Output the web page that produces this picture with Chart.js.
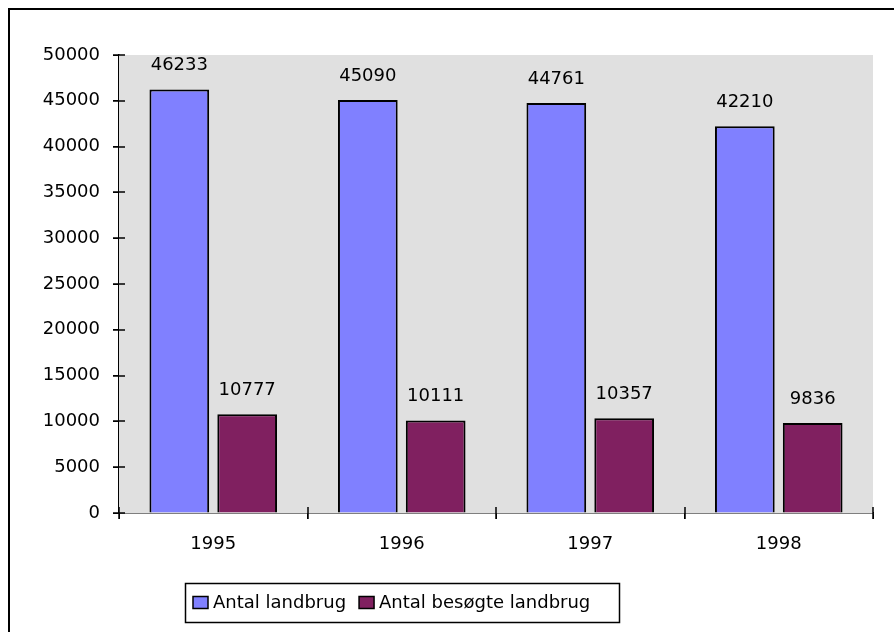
<!DOCTYPE html>
<html>
<head>
<meta charset="utf-8">
<script src="https://cdn.jsdelivr.net/npm/chart.js@4"></script>
<style>
    html, body { margin: 0; padding: 0; background: #fff; }
    #wrap { position: relative; width: 894px; height: 632px; overflow: hidden; }
    #frame { position: absolute; left: 8px; top: 8px; width: 1000px; height: 1000px;
             border-left: 2px solid #000; border-top: 2px solid #000; }
    canvas { position: absolute; left: 0; top: 0; }
</style>
</head>
<body>
<div id="wrap">
    <div id="frame"></div>
    <canvas id="chart" width="894" height="632"></canvas>
</div>
<script>
// Données
const years = ['1995', '1996', '1997', '1998'];
const antalLandbrug = [46233, 45090, 44761, 42210];
const antalBesogte = [10777, 10111, 10357, 9836];
const seriesNames = ['Antal landbrug', 'Antal besøgte landbrug'];
const seriesColors = ['#8080FF', '#802060'];
const yTicks = [0, 5000, 10000, 15000, 20000, 25000, 30000, 35000, 40000, 45000, 50000];

const FONT = { family: '"DejaVu Sans", sans-serif', size: 18 };
const fontStr = `${FONT.size}px ${FONT.family}`;

// Fond gris de la zone de tracé
const plotBackground = {
    id: 'plotBackground',
    beforeDatasetsDraw(chart) {
        const { ctx, chartArea: a } = chart;
        ctx.save();
        ctx.fillStyle = '#E0E0E0';
        ctx.fillRect(a.left, a.top, a.right - a.left, a.bottom - a.top);
        ctx.restore();
    }
};

// Petites graduations qui traversent les axes
const crossTicks = {
    id: 'crossTicks',
    afterDraw(chart) {
        const { ctx, chartArea: a } = chart;
        const y = chart.scales.y;
        ctx.save();
        ctx.strokeStyle = '#000';
        ctx.lineWidth = 1.5;
        ctx.beginPath();
        y.ticks.forEach((t, i) => {
            const py = Math.round(y.getPixelForTick(i));
            ctx.moveTo(a.left - 6, py);
            ctx.lineTo(a.left + 6, py);
        });
        const n = years.length;
        for (let i = 0; i <= n; i++) {
            const px = Math.round(a.left + i * (a.right - a.left) / n);
            ctx.moveTo(px, a.bottom + 6);
            ctx.lineTo(px, a.bottom - 6);
        }
        ctx.stroke();
        ctx.restore();
    }
};

// Étiquettes de valeurs au-dessus des barres
const valueLabels = {
    id: 'valueLabels',
    afterDatasetsDraw(chart) {
        const { ctx } = chart;
        ctx.save();
        ctx.font = fontStr;
        ctx.fillStyle = '#000';
        ctx.textAlign = 'center';
        ctx.textBaseline = 'middle';
        chart.data.datasets.forEach((ds, di) => {
            chart.getDatasetMeta(di).data.forEach((bar, i) => {
                ctx.fillText(String(ds.data[i]), bar.x, bar.y - 24);
            });
        });
        ctx.restore();
    }
};

// Légende encadrée en bas
const boxLegend = {
    id: 'boxLegend',
    afterDraw(chart) {
        const { ctx } = chart;
        const left = 185, top = 583, bottom = 622;
        const midY = (top + bottom) / 2;
        const mW = 15, mH = 12, gap = 5, itemGap = 13, padL = 8, padR = 29;
        ctx.save();
        ctx.font = fontStr;
        const items = chart.data.datasets.map(ds => ({
            text: ds.label, color: ds.backgroundColor, w: ctx.measureText(ds.label).width
        }));
        let total = padL + padR;
        items.forEach((it, i) => { total += mW + gap + it.w + (i < items.length - 1 ? itemGap : 0); });
        ctx.strokeStyle = '#000';
        ctx.lineWidth = 1.5;
        ctx.strokeRect(left + 0.5, top + 0.5, Math.round(total), bottom - top);
        let x = left + padL;
        ctx.textBaseline = 'middle';
        ctx.textAlign = 'left';
        items.forEach(it => {
            ctx.fillStyle = it.color;
            ctx.fillRect(x, midY - mH / 2, mW, mH);
            ctx.strokeRect(x, midY - mH / 2, mW, mH);
            x += mW + gap;
            ctx.fillStyle = '#000';
            ctx.fillText(it.text, x, midY + 1);
            x += it.w + itemGap;
        });
        ctx.restore();
    }
};

new Chart(document.getElementById('chart'), {
    type: 'bar',
    data: {
        labels: years,
        datasets: [
            {
                label: seriesNames[0],
                data: antalLandbrug,
                backgroundColor: seriesColors[0],
                borderColor: '#000',
                borderWidth: 2,
                categoryPercentage: 0.72,
                barPercentage: 0.88
            },
            {
                label: seriesNames[1],
                data: antalBesogte,
                backgroundColor: seriesColors[1],
                borderColor: '#000',
                borderWidth: 2,
                categoryPercentage: 0.72,
                barPercentage: 0.88
            }
        ]
    },
    options: {
        responsive: false,
        animation: false,
        layout: { padding: { top: 55, right: 21, left: 0, bottom: 0 } },
        plugins: {
            legend: { display: false },
            tooltip: { enabled: false }
        },
        scales: {
            x: {
                grid: { offset: true, drawOnChartArea: false, drawTicks: true, tickLength: 6, color: '#000' },
                border: { color: '#000', width: 1.5 },
                ticks: { font: FONT, color: '#000', padding: 15, maxRotation: 0 },
                afterFit(scale) { scale.height = 119; }
            },
            y: {
                min: 0,
                max: 50000,
                afterBuildTicks(scale) { scale.ticks = yTicks.map(v => ({ value: v })); },
                grid: { drawOnChartArea: false, drawTicks: true, tickLength: 6, color: '#000' },
                border: { color: '#000', width: 1.5 },
                ticks: { font: FONT, color: '#000', padding: 13, callback: v => String(v) },
                afterFit(scale) { scale.width = 119; }
            }
        }
    },
    plugins: [plotBackground, valueLabels, crossTicks, boxLegend]
});
</script>
</body>
</html>
